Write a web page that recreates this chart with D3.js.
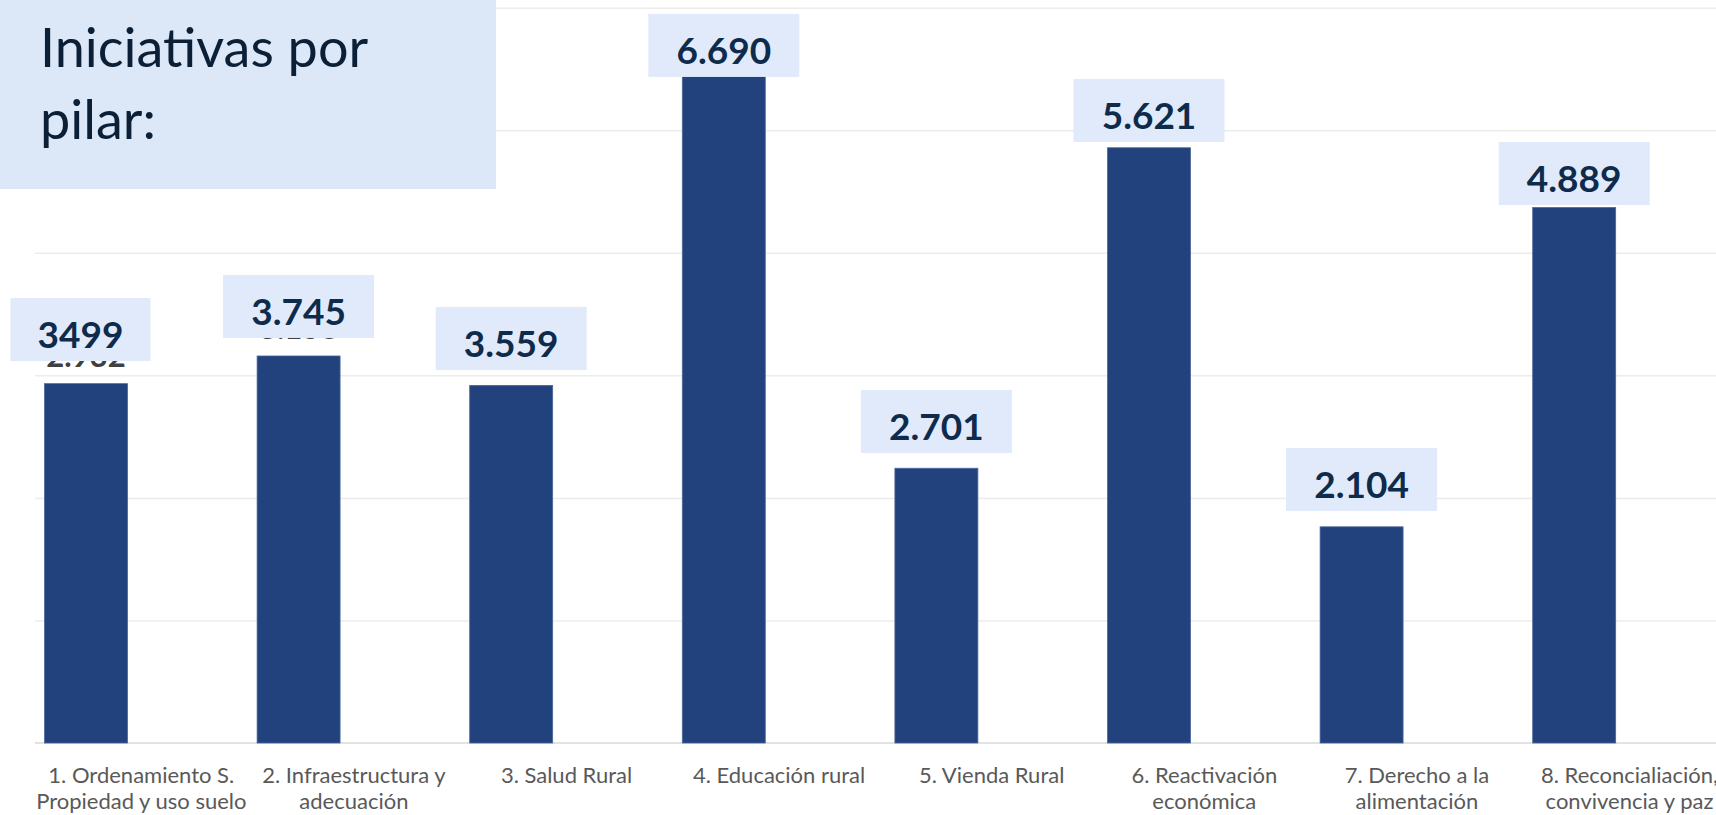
<!DOCTYPE html>
<html lang="es">
<head>
    <meta charset="UTF-8">
    <title>Iniciativas por pilar</title>
    <script src="https://d3js.org/d3.v7.min.js"></script>
</head>
<body style="margin:0;background:#fff;">
<style>
    svg { font-family: Lato, "Open Sans", sans-serif; }
    .grid line { stroke: #ececec; stroke-width: 1.5; }
    .grid path { display: none; }
    .cat text { fill: #595959; font-size: 22px; }
</style>

<div id="my_dataviz"></div>

<script>
    // categories (two text lines each, as in the original chart)
    var categories = ["1", "2", "3", "4", "5", "6", "7", "8"];
    var categoryLines = [
        ["1. Ordenamiento S.", "Propiedad y uso suelo"],
        ["2. Infraestructura y", "adecuación"],
        ["3. Salud Rural", ""],
        ["4. Educación rural", ""],
        ["5. Vienda Rural", ""],
        ["6. Reactivación", "económica"],
        ["7. Derecho a la", "alimentación"],
        ["8. Reconcialiación,", "convivencia y paz"]
    ];
    // bar heights as drawn
    var barValues = [2932, 3158, 2918, 5446, 2242, 4857, 1764, 4369];
    // numbers written in the highlight boxes over the bars
    var boxLabels = ["3499", "3.745", "3.559", "6.690", "2.701", "5.621", "2.104", "4.889"];
    // level (axis units) where each highlight box sits
    var boxLevels = [3117, 3305, 3044, 5435, 2366, 4904, 1893, 4390];
    var yTicks = [0, 1000, 2000, 3000, 4000, 5000, 6000];
    var series = ["Iniciativas", "vacía"];

    var W = 1716, H = 815;
    var plotLeft = 35, step = 212.6, baseY = 743, topY = 7.7;

    var svg = d3.select("#my_dataviz").append("svg")
        .attr("width", W)
        .attr("height", H);

    var x0 = d3.scaleBand().domain(categories)
        .range([plotLeft, plotLeft + step * categories.length]);
    var x1 = d3.scaleBand().domain(series)
        .range([0, x0.bandwidth()])
        .paddingInner(0.25).paddingOuter(0.086);
    var y = d3.scaleLinear().domain([0, 6000]).range([baseY, topY]);

    function barCenter(i) {
        return x0(categories[i]) + x1(series[0]) + x1.bandwidth() / 2;
    }

    // gridlines
    svg.append("g").attr("class", "grid")
        .attr("transform", "translate(" + plotLeft + ",0)")
        .call(d3.axisLeft(y).tickValues(yTicks.slice(1)).tickSize(-(W - plotLeft)).tickFormat(""));

    // baseline
    svg.append("line")
        .attr("x1", plotLeft).attr("x2", W)
        .attr("y1", y(0)).attr("y2", y(0))
        .attr("stroke", "#d9d9d9").attr("stroke-width", 1.5);

    // bars
    svg.append("g").selectAll("rect").data(barValues).enter().append("rect")
        .attr("x", function(d, i){ return x0(categories[i]) + x1(series[0]); })
        .attr("y", function(d){ return y(d); })
        .attr("width", x1.bandwidth())
        .attr("height", function(d){ return y(0) - y(d); })
        .attr("fill", "#21427d")
        .attr("stroke", "#4a6598")
        .attr("stroke-width", 0.8);

    // original data labels: only the ones that still peek out below their box
    var fmt = function(v){ return d3.format(",")(v).replace(/,/g, "."); };
    var peeking = barValues.map(function(v, i){ return {v: v, i: i}; })
        .filter(function(d){ return y(d.v) - 17 > y(boxLevels[d.i]) + 0.5; });
    svg.append("g").selectAll("text").data(peeking).enter().append("text")
        .attr("x", function(d){ return barCenter(d.i); })
        .attr("y", function(d){ return y(d.v) - 17; })
        .attr("text-anchor", "middle")
        .attr("font-size", 31).attr("font-weight", 700)
        .attr("fill", "#404040")
        .text(function(d){ return fmt(d.v); });

    // highlight boxes with the new numbers
    var boxW = 151, boxH = 63;
    function boxWidth(i) { return i === 0 ? 140 : boxW; }
    function boxLeft(i) { return Math.max(6, barCenter(i) - boxW / 2); }
    var boxes = svg.append("g").selectAll("g").data(boxLabels).enter().append("g");
    boxes.append("rect")
        .attr("x", function(d, i){ return boxLeft(i); })
        .attr("y", function(d, i){ return y(boxLevels[i]) - boxH; })
        .attr("width", function(d, i){ return boxWidth(i); })
        .attr("height", boxH)
        .attr("fill", "#e0eafa");
    boxes.append("text")
        .attr("x", function(d, i){ return boxLeft(i) + boxWidth(i) / 2; })
        .attr("y", function(d, i){ return y(boxLevels[i]) - 13; })
        .attr("text-anchor", "middle")
        .attr("font-size", 37).attr("font-weight", 700)
        .attr("fill", "#0e2b4c")
        .text(function(d){ return d; });

    // category labels
    var cat = svg.append("g").attr("class", "cat").selectAll("text").data(categoryLines).enter().append("text")
        .attr("text-anchor", "middle")
        .attr("transform", function(d, i){ return "translate(" + (x0(categories[i]) + x0.bandwidth() / 2) + ",783)"; });
    cat.append("tspan").attr("x", 0).attr("y", 0).text(function(d){ return d[0]; });
    cat.append("tspan").attr("x", 0).attr("y", 26).text(function(d){ return d[1]; });

    // title box
    svg.append("rect")
        .attr("x", 0).attr("y", 0).attr("width", 496).attr("height", 189)
        .attr("fill", "#dce8f8");
    var title = svg.append("text")
        .attr("font-size", 54)
        .attr("fill", "#0b1f36");
    title.append("tspan").attr("x", 40).attr("y", 67).text("Iniciativas por");
    title.append("tspan").attr("x", 40).attr("y", 139).text("pilar:");
</script>

</body>
</html>
